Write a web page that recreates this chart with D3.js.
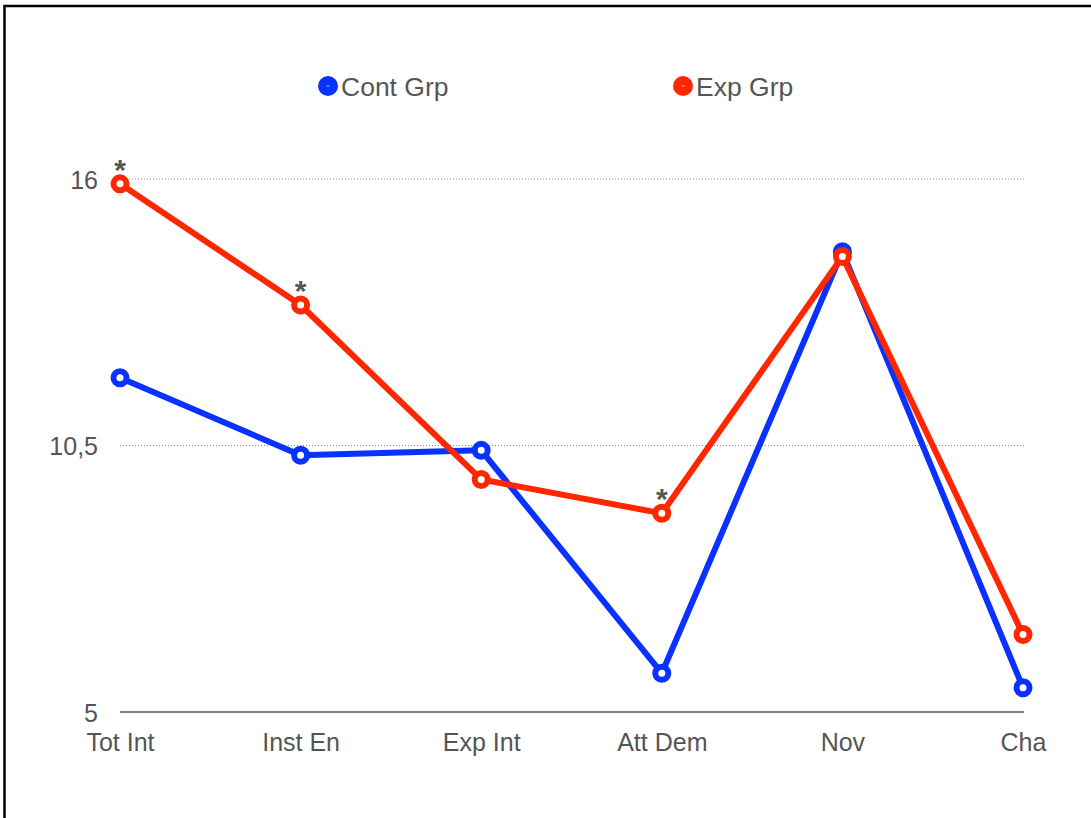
<!DOCTYPE html>
<html>
<head>
<meta charset="utf-8">
<script src="https://cdn.jsdelivr.net/npm/d3@7"></script>
<style>
  html, body { margin: 0; padding: 0; background: #fff; }
  svg { display: block; font-family: "Liberation Sans", Arial, sans-serif; }
</style>
</head>
<body>
<svg id="chart" width="1091" height="818"></svg>
<script>
// Categories and group means
const categories = ["Tot Int", "Inst En", "Exp Int", "Att Dem", "Nov", "Cha"];
const contGrp = [11.9, 10.3, 10.4, 5.8, 14.5, 5.5];
const expGrp  = [15.9, 13.4, 9.8, 9.1, 14.4, 6.6];
// Categories where the difference is marked significant
const significant = ["Tot Int", "Inst En", "Att Dem"];
const yTicks = [5, 10.5, 16];
const seriesNames = ["Cont Grp", "Exp Grp"];
const seriesColors = ["#0a32ff", "#ff2600"];

const svg = d3.select("#chart");

// Outer frame
svg.append("rect")
  .attr("x", 4.5).attr("y", 6)
  .attr("width", 1200).attr("height", 1000)
  .attr("fill", "none").attr("stroke", "#000").attr("stroke-width", 2.5);

const x = d3.scalePoint().domain(categories).range([120, 1023]);
const y = d3.scaleLinear().domain([5, 16]).range([712, 179]);

// Gridlines (dotted) above the baseline
svg.append("g").selectAll("line")
  .data(yTicks.filter(t => t !== 5))
  .join("line")
  .attr("x1", 120).attr("x2", 1024)
  .attr("y1", d => y(d)).attr("y2", d => y(d))
  .attr("stroke", "#888").attr("stroke-width", 1)
  .attr("stroke-dasharray", "1,2");

// Baseline
svg.append("line")
  .attr("x1", 120).attr("x2", 1024)
  .attr("y1", y(5)).attr("y2", y(5))
  .attr("stroke", "#808080").attr("stroke-width", 2);

// Y axis labels
const fmt = d => String(d).replace(".", ",");
const yAxis = d3.axisLeft(y).tickValues(yTicks).tickFormat(fmt).tickSize(0).tickPadding(0);
const yg = svg.append("g").attr("transform", "translate(98,0)").call(yAxis);
yg.select(".domain").remove();
yg.selectAll("text")
  .attr("font-size", 25).attr("fill", "#555")
  .attr("font-family", "Liberation Sans, Arial, sans-serif")
  .attr("dy", "0.36em");

// X axis labels
const xAxis = d3.axisBottom(x).tickSize(0).tickPadding(0);
const xg = svg.append("g").attr("transform", "translate(0,751)").call(xAxis);
xg.select(".domain").remove();
xg.selectAll("text")
  .attr("font-size", 25).attr("fill", "#555")
  .attr("font-family", "Liberation Sans, Arial, sans-serif")
  .attr("y", 0)
  .attr("dy", "0");

const line = d3.line().x((d, i) => x(categories[i])).y(d => y(d));

const series = [contGrp, expGrp];
series.forEach((vals, si) => {
  const g = svg.append("g");
  g.append("path")
    .datum(vals)
    .attr("d", line)
    .attr("fill", "none")
    .attr("stroke", seriesColors[si])
    .attr("stroke-width", 6)
    .attr("stroke-linejoin", "round");
  g.selectAll("circle")
    .data(vals)
    .join("circle")
    .attr("cx", (d, i) => x(categories[i]))
    .attr("cy", d => y(d))
    .attr("r", 6.5)
    .attr("fill", "#fff")
    .attr("stroke", seriesColors[si])
    .attr("stroke-width", 6);
});

// Significance markers above the experimental group points
svg.append("g").selectAll("text")
  .data(significant)
  .join("text")
  .attr("x", d => x(d))
  .attr("y", d => y(expGrp[categories.indexOf(d)]) - 4)
  .attr("text-anchor", "middle")
  .attr("font-size", 30)
  .attr("font-weight", "bold")
  .attr("fill", "#555")
  .text("*");

// Legend
const legendX = [328, 683];
const lg = svg.append("g").selectAll("g")
  .data(seriesNames)
  .join("g")
  .attr("transform", (d, i) => `translate(${legendX[i]},86)`);
lg.append("circle").attr("r", 10).attr("fill", (d, i) => seriesColors[i]);
lg.append("line").attr("x1", -2).attr("x2", 2).attr("y1", 0).attr("y2", 0)
  .attr("stroke", "#fff").attr("stroke-width", 0.8).attr("opacity", 0.7);
lg.append("text")
  .attr("x", 13).attr("dy", "0.36em")
  .attr("font-size", 26.5).attr("fill", "#555")
  .text(d => d);
</script>
</body>
</html>
